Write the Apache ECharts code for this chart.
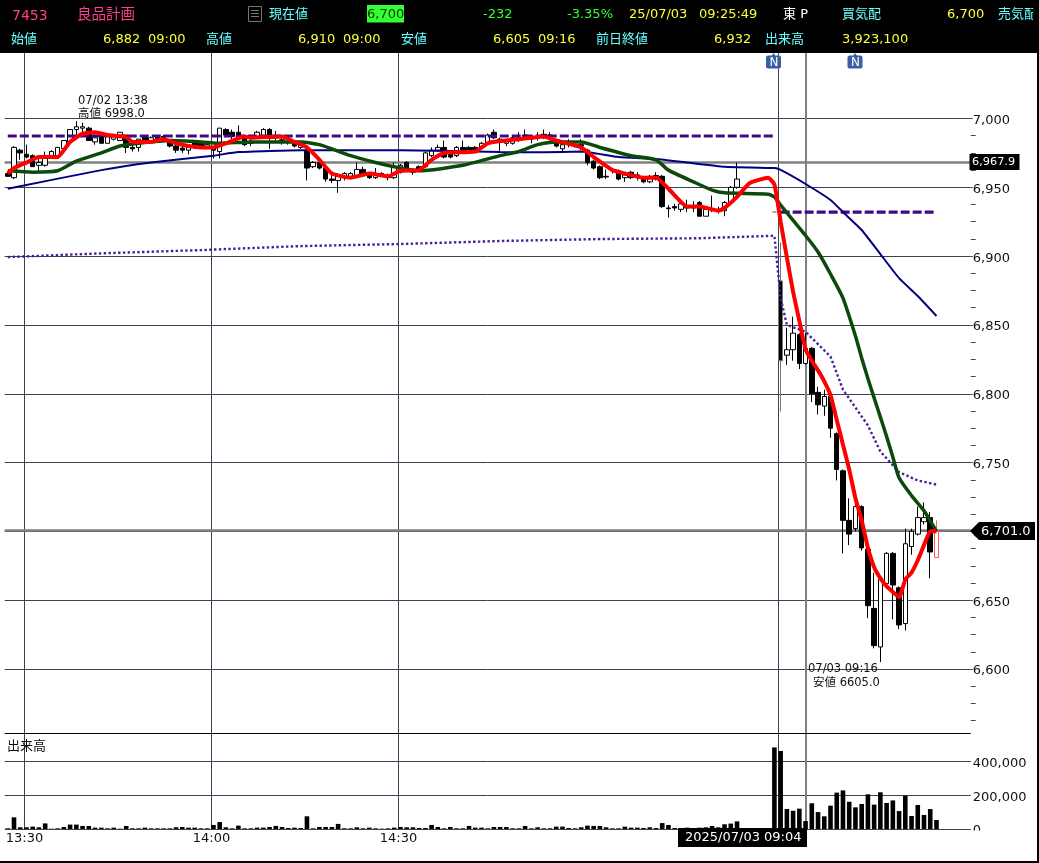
<!DOCTYPE html>
<html><head><meta charset="utf-8">
<style>html,body{margin:0;padding:0;background:#fff}#c{width:1039px;height:863px}</style>
<script src="https://cdn.jsdelivr.net/npm/echarts@6/dist/echarts.min.js"></script>
</head><body><div id="c"></div>
<script>
// [open, close, low, high], one row per minute slot, null where the chart has no candle
const candles = [
[6960,6958,6958,6961],[6957,6979,6956,6980],[6977,6975,6970,6978],[6974,6972,6971,6981],[6973,6965,6965,6974],
[6966,6968,6961,6973],[6966,6971,6965,6976],[6972,6976,6971,6977],[6973,6979,6973,6979],[6978,6984,6978,6984],
[6983,6992,6982,6992],[6992,6994,6988,6998],[6993,6994,6989,6997],[6993,6984,6984,6994],[6983,6986,6981,6990],
[6987,6982,6982,6988],[6982,6988,6982,6988],[6985,6987,6984,6989],[6984,6990,6984,6990],[6988,6979,6975,6988],
[6979,6978,6976,6983],[6979,6985,6976,6985],[6987,6983,6983,6988],[6984,6986,6983,6987],[6987,6985,6984,6988],
[6987,6986,6985,6988],[6984,6980,6979,6985],[6980,6977,6975,6981],[6978.5,6977,6975,6981],[6977,6979,6974,6980],
[6983,6979,6978,6984],[6982,6979,6978,6983],[6979,6981,6978,6982],[6979,6977,6971,6980],[6976,6993,6971,6993],
[6992,6988,6987,6993],[6990,6987,6985,6992],[6990,6987,6986,6995],[6987,6981,6980,6988],[6983,6982,6980,6985],
[6987,6990,6986,6991],[6987,6992,6986,6993],[6992,6987,6978,6993],[6987,6986,6984,6991],[6984.5,6984,6981,6988],
[6983,6982.5,6981,6984],[6983,6980,6979,6984],[6979,6982,6978,6983],[6977,6964,6955,6978],[6965,6968,6964,6969],
[6968,6964,6963,6969],[6964,6956,6954,6965],[6956,6955,6953,6961],[6955,6959,6946,6960],[6957,6960,6955,6961],
[6958,6960,6957,6961],[6958,6963,6957,6968],[6963,6959,6958,6965],[6960,6957,6956,6961],[6957,6960,6956,6964],
[6960,6959,6958,6961],[6958,6957,6955,6960],[6957,6965,6956,6968],[6961,6966,6960,6967],[6968,6963,6962,6969],
[6962.5,6961,6959,6963],[6965,6963,6962,6966],[6965,6975,6964,6976],[6973,6977,6972,6979],[6977,6979,6976,6981],
[6979,6972,6971,6984],[6974,6972,6971,6975],[6973,6979,6972,6980],[6979,6977,6976,6984],[6979,6977,6976,6980],
[6979,6977,6976,6980],[6979,6982,6978,6983],[6982,6988,6981,6989],[6990,6986,6985,6992],[6985,6983,6975,6986],
[6982,6984,6980,6985],[6982,6986,6981,6987],[6985,6986,6983,6990],[6988,6987,6985,6992],[6985.5,6985,6982,6988],
[6987,6986,6984,6990],[6988.5,6987,6985,6992],[6986,6988,6984,6990],[6983,6980,6979,6985],[6978,6981,6976,6982],
[6982,6981,6979,6985],[6981,6980.5,6979,6983],[6981,6980,6977,6985],[6977,6968,6966,6978],[6969,6964,6963,6970],
[6965,6957,6956,6966],[6958,6957.5,6956,6963],[6963,6962,6960,6964],[6962,6956,6955,6963],[6957,6959,6954,6960],
[6961,6957,6956,6962],[6959,6958,6955,6961],[6957,6954,6953,6958],[6954,6958,6953,6959],[6958.5,6958,6955,6961],
[6958,6936,6935,6959],[6935,6934.5,6928,6937],[6936,6935,6933,6938],[6934,6938,6932,6939],[6935.5,6935,6932,6941],
[6935.5,6935,6932,6940],[6939,6929,6929,6940],[6929,6934,6929,6935],[6934,6934,6932,6944],[6934,6933.5,6931,6936],
[6933,6939,6929,6940],[6939,6950,6938,6951],[6950,6956,6949,6968],null,null,
null,null,null,[6932,6932,6932,6932],[6882,6824,6787,6910],
[6828,6832,6821,6848],[6832,6844,6824,6856],[6843,6822,6818,6844],[6822,6833,6821,6844],[6833,6800,6794,6834],
[6801,6792,6785,6805],[6791,6798,6784,6803],[6798,6775,6768,6799],[6771,6745,6737,6772],[6744,6708,6684,6745],
[6708,6698,6690,6724],[6702,6718,6700,6724],[6718,6688,6686,6719],[6687,6646,6637,6688],[6644,6617,6615,6670],
[6616,6665,6605,6666],[6662,6684,6660,6685],[6684,6661,6636,6685],[6659,6632,6629,6660],[6633,6691,6628,6702],
[6689,6700,6683,6702],[6698,6710,6697,6718],[6707,6710,6705,6721],[6710,6685,6666,6714],[6681,6700,6681,6708]
];
const volumes = [
4000,69000,10000,10000,14000,10000,33000,2000,4000,12000,
26000,26000,18000,18000,8000,8000,4000,8000,2000,18000,
4000,4000,8000,4000,4000,4000,4000,10000,12000,8000,
8000,4000,4000,24000,41000,10000,4000,20000,4000,4000,
8000,8000,12000,18000,12000,6000,8000,6000,75000,4000,
12000,12000,12000,30000,4000,4000,10000,4000,8000,4000,
2000,4000,8000,12000,10000,10000,6000,6000,24000,12000,
4000,12000,4000,4000,18000,8000,8000,4000,12000,12000,
12000,4000,4000,18000,4000,10000,4000,4000,14000,14000,
6000,4000,10000,20000,18000,18000,10000,4000,4000,14000,
8000,8000,6000,10000,6000,35000,24000,6000,4000,8000,
4000,8000,10000,18000,10000,28000,32000,45000,null,null,
null,null,null,482000,461000,118000,108000,120000,47000,152000,
100000,75000,138000,215000,228000,161000,128000,148000,205000,144000,
217000,154000,169000,106000,197000,77000,142000,83000,118000,53000
];
// moving-average lines as [slot, value] readings
const shortAvg = [[0,6960],[1,6964],[3,6968],[5,6972],[8,6972],[9,6977],[10,6983],[12,6989],[14,6990],[16,6988],[19,6986.5],[20,6983],[23,6983],[25,6985],[27,6982],[29,6980],[31,6979],[33,6979],[35,6982],[38,6987],[39,6986],[44,6987],[46,6983],[48,6979],[50,6970],[52,6960],[55,6957],[58,6960],[61,6958],[63,6962],[66,6962.5],[68,6970],[70,6975],[75,6976],[77,6982],[79,6983.6],[82,6985],[86,6987],[88,6984],[92,6979],[94,6972],[97,6962.5],[99,6960],[102,6957],[104,6957],[106,6949],[109,6936],[111,6936],[114,6933],[115,6935],[117,6943],[119,6953],[122,6957],[123,6952],[124,6925],[125,6899],[126,6874],[127,6853],[128,6832],[129,6824],[130,6817],[131,6809],[132,6799],[133,6781],[134,6763],[135,6745],[136,6724],[137,6708],[138,6688],[139,6674],[140,6666],[141,6660],[142,6656],[143,6652],[144,6665],[145,6670],[146,6679],[147,6690],[148,6700],[149,6700]];
const midAvg = [[0,6962],[4,6961],[8,6962],[11,6969],[15,6975],[18,6980],[21,6982],[26,6984],[31,6983],[34,6982],[39,6983],[47,6983],[50,6981],[55,6973],[59,6968],[63,6964],[66,6962],[73,6966],[79,6973],[82,6976],[85,6981],[88,6983],[92,6983],[95,6979],[100,6973],[104,6970],[106,6962.5],[110,6954],[113,6948],[115,6946],[122,6945],[123,6943],[124,6937],[126,6926],[128,6915],[130,6903],[132,6887],[134,6869.5],[136,6842],[137,6826],[138,6811],[139,6797],[140,6783],[141,6769],[142,6754],[143,6739],[145,6726],[147,6715],[149,6700]];
const longAvg = [[0,6949],[15,6962.5],[23,6968],[33,6973],[37,6975.6],[47,6977],[63,6977],[79,6975.6],[86,6975.5],[92,6976],[98,6972],[104,6970.5],[109,6968],[115,6965],[123,6964],[124,6962.6],[128,6952.4],[132,6940.8],[134,6932],[137,6919],[140,6901.5],[143,6884],[146,6871],[149,6856.5]];
const vwapDots = [[0,6899.3],[15,6902],[31,6904.4],[47,6907.3],[63,6908.8],[79,6911],[95,6912.4],[111,6913],[123,6914.8],[124,6869.5],[125,6850],[128,6845],[132,6827],[134,6803],[136,6790],[138,6777],[140,6758],[143,6743],[146,6737],[149,6734]];
const dayHighLine = [[0,6987.3],[123,6987.3]];
const prevCloseLine = [[124,6932],[149,6932]];
const priceLevels = [6967.9, 6701];
const timeTicks = ['13:30','14:00','14:30'];

const SLOTS = 155;
const LEFT = 4.65, WIDTH = 966.1;
const PURPLE = '#3f0a82', GRID = '#3d4152';
const categories = Array.from({length: SLOTS}, (_, i) => String(i));
const comma = v => Math.round(v).toString().replace(/\B(?=(\d{3})+$)/g, ',');

const candleData = candles.map((r, i) => {
  if (!r) return '-';
  const item = {value: r};
  if (i === candles.length - 1) item.itemStyle = {color:'#fff', borderColor:'#ff5a5a', color0:'#fff', borderColor0:'#ff5a5a'};
  if (r[0] === r[1] && r[0] === r[2]) item.itemStyle = {borderColor:'#8a8a8a', borderColor0:'#8a8a8a', borderColorDoji:'#8a8a8a'};
  if (r[3] === 6910) item.itemStyle = {borderColor0:'#777777'};
  return item;
});
const line = (name, data, color, width, extra) => Object.assign({
  name, type:'line', xAxisIndex:0, yAxisIndex:0, data, showSymbol:false, symbol:'none', silent:true, clip:true,
  lineStyle:{color, width}, z:5
}, extra || {});

const FONT = '"DejaVu Sans","Noto Sans CJK JP",sans-serif';
const CYAN = '#66ffff', YEL = '#ffff33', GRN = '#33ff33', PINK = '#ff3f8f';
const headerRows = [
  ['7453',12,16,PINK,14],['良品計画',77,15.5,PINK,14.5],['現在値',269,15,CYAN,13],['6,700',367,15,'#0a3a0a',13],
  ['-232',483,15,GRN,13],['-3.35%',567,15,GRN,13],['25/07/03',629,15,YEL,13],['09:25:49',699,15,YEL,13],
  ['東 P',783,15,'#ffffff',13],['買気配',842,15,CYAN,13],['6,700',947,15,YEL,13],['売気配',998,15,CYAN,13],
  ['始値',11,39.5,CYAN,13],['6,882',103,40,YEL,13],['09:00',148,40,YEL,13],['高値',206,39.5,CYAN,13],['6,910',298,40,YEL,13],['09:00',343,40,YEL,13],
  ['安値',401,39.5,CYAN,13],['6,605',493,40,YEL,13],['09:16',538,40,YEL,13],['前日終値',596,39.5,CYAN,13],['6,932',714,40,YEL,13],
  ['出来高',765,39.5,CYAN,13],['3,923,100',842,40,YEL,13]
];
const txt = (t,x,y,fill,size,z) => ({type:'text', x, y, z:z||100, silent:true, style:{text:t, fill, font:size+'px '+FONT, verticalAlign:'middle', align:'left'}});
const rect = (x,y,w,h,fill,z,r) => ({type:'rect', z:z||90, silent:true, shape:{x,y,width:w,height:h,r:r||0}, style:{fill}});
const badge = x => [
  {type:'polygon', z:100, silent:true, shape:{points:[[x-2,56],[x,53],[x+2,56]]}, style:{fill:'#3a5ea6'}},
  rect(x-7.5,55.5,15,13,'#3a5ea6',100,2),
  txt('N',x-4,62.5,'#ffffff',12,101)
];
const elements = [
  rect(0,0,1039,53,'#000000',90),
  rect(0,861,1039,2,'#000000',90),
  rect(1037,0,2,863,'#000000',90),
  rect(1033,0,6,53,'#000000',102),
  rect(971,830.5,64,8,'#ffffff',90),
  rect(970.5,734,30,6,'#ffffff',90),
  rect(970.5,53,30,60,'#ffffff',90),
  rect(5,733,965.5,1,'#000000',90),
  rect(367,5,37,17.5,'#33ff33',95),
  {type:'rect', z:100, silent:true, shape:{x:248.5,y:6.5,width:13,height:15}, style:{fill:'none',stroke:'#777',lineWidth:1}},
  rect(251,10,8,1,'#777',100),rect(251,13,8,1,'#777',100),rect(251,16,8,1,'#777',100),
  ...headerRows.map(r => txt(r[0],r[1],r[2],r[3],r[4])),
  ...badge(773.5),...badge(855),
  txt('07/02 13:38',78,101.5,'#111',11.5),txt('高値 6998.0',78,114,'#111',11.5),
  txt('07/03 09:16',808,669.5,'#111',11.5),txt('安値 6605.0',813,683,'#111',11.5),
  txt('出来高',7,747,'#111',13),
  rect(969.5,154,50,16,'#000000',95),txt('6,967.9',972,162.5,'#ffffff',11.3),
  {type:'polygon', z:95, silent:true, shape:{points:[[970,531],[979,522],[1035,522],[1035,540],[979,540]]}, style:{fill:'#000'}},
  txt('6,701.0',981,531.5,'#ffffff',13),
  rect(678,828,129,19,'#000000',95),txt('2025/07/03 09:04',685,838,'#ffffff',13)
];
const richLabel = {p:{color:'#111', fontFamily:FONT, fontSize:13, padding:[4,0,0,0]}};
const richFmt = v => '{p|' + comma(v) + '}';

const option = {
  animation:false, backgroundColor:'#fff',
  grid:[
    {left:LEFT, width:WIDTH, top:49.7, height:688.1},
    {left:LEFT, width:WIDTH, top:733.5, height:95.5},
    {left:LEFT, width:WIDTH, top:53, height:776}
  ],
  xAxis:[
    {type:'category', gridIndex:0, data:categories, boundaryGap:true, axisLine:{show:false}, axisTick:{show:false}, axisLabel:{show:false}, splitLine:{show:false}},
    {type:'category', gridIndex:1, data:categories, boundaryGap:true, axisLine:{show:false}, axisTick:{show:false}, axisLabel:{show:false}, splitLine:{show:false}},
    {type:'value', gridIndex:2, min:-0.5, max:SLOTS-0.5, axisLine:{show:false}, axisTick:{show:false}, splitLine:{show:false},
      axisLabel:{show:true, customValues:[2.68,32.68,62.68], margin:3, color:'#111', fontFamily:FONT, fontSize:13, hideOverlap:false,
        formatter:v => timeTicks[[2.68,32.68,62.68].indexOf(v)] || ''}}
  ],
  yAxis:[
    {type:'value', gridIndex:0, position:'right', min:6550, max:7050, interval:50, scale:true,
      axisLine:{show:false}, axisTick:{show:true, length:2, lineStyle:{color:GRID}},
      minorTick:{show:true, splitNumber:4, length:5, lineStyle:{color:'#444'}},
      splitLine:{show:true, showMinLine:false, showMaxLine:false, lineStyle:{color:GRID, width:1}},
      axisLabel:{margin:2, rich:richLabel, showMinLabel:false, showMaxLabel:false, formatter:richFmt}},
    {type:'value', gridIndex:1, position:'right', min:0, max:564250, interval:200000,
      axisLine:{show:false}, axisTick:{show:false},
      splitLine:{show:true, lineStyle:{color:GRID, width:1}},
      axisLabel:{margin:2, rich:richLabel, showMaxLabel:false, formatter:richFmt}},
    {type:'value', gridIndex:2, min:0, max:1, show:false}
  ],
  series:[
    {type:'line', xAxisIndex:2, yAxisIndex:2, data:[], silent:true, z:1,
      markLine:{silent:true, symbol:'none', label:{show:false}, animation:false, z:1,
        data:[
          {xAxis:2.68, lineStyle:{color:GRID,width:1,type:'solid'}},
          {xAxis:32.68, lineStyle:{color:GRID,width:1,type:'solid'}},
          {xAxis:62.68, lineStyle:{color:GRID,width:1,type:'solid'}},
          {xAxis:123.65, lineStyle:{color:GRID,width:1,type:'solid'}},
          {xAxis:128, lineStyle:{color:'#808080',width:2,type:'solid'}}
        ]}},
    {type:'candlestick', xAxisIndex:0, yAxisIndex:0, data:candleData, barWidth:5, silent:true, z:3,
      itemStyle:{color:'#ffffff', color0:'#000000', borderColor:'#000000', borderColor0:'#000000', borderColorDoji:'#000000', borderWidth:1},
      markLine:{silent:true, symbol:'none', label:{show:false}, animation:false, z:2,
        lineStyle:{color:'#808080', width:2.5, type:'solid'}, data:priceLevels.map(v => ({yAxis:v}))}},
    line('high', dayHighLine, PURPLE, 3.2, {lineStyle:{color:PURPLE,width:3.2,type:[9,3]}}),
    line('prev', prevCloseLine, PURPLE, 3.2, {lineStyle:{color:PURPLE,width:3.2,type:[9,3]}}),
    line('dots', vwapDots, '#4b1c9c', 2.4, {lineStyle:{color:'#4b1c9c',width:2.4,type:[2.4,2.4]}}),
    line('long', longAvg, '#000080', 2, {smooth:0.15}),
    line('mid', midAvg, '#0c4a0c', 3.5, {smooth:0.2}),
    line('short', shortAvg, '#ff0000', 4, {smooth:0.15, z:6}),
    {type:'bar', xAxisIndex:1, yAxisIndex:1, data:volumes, barWidth:4.6, silent:true, z:3, itemStyle:{color:'#000'}}
  ],
  graphic:{elements}
};
const chart = echarts.init(document.getElementById('c'), null, {renderer:'canvas'});
chart.setOption(option);
</script></body></html>
